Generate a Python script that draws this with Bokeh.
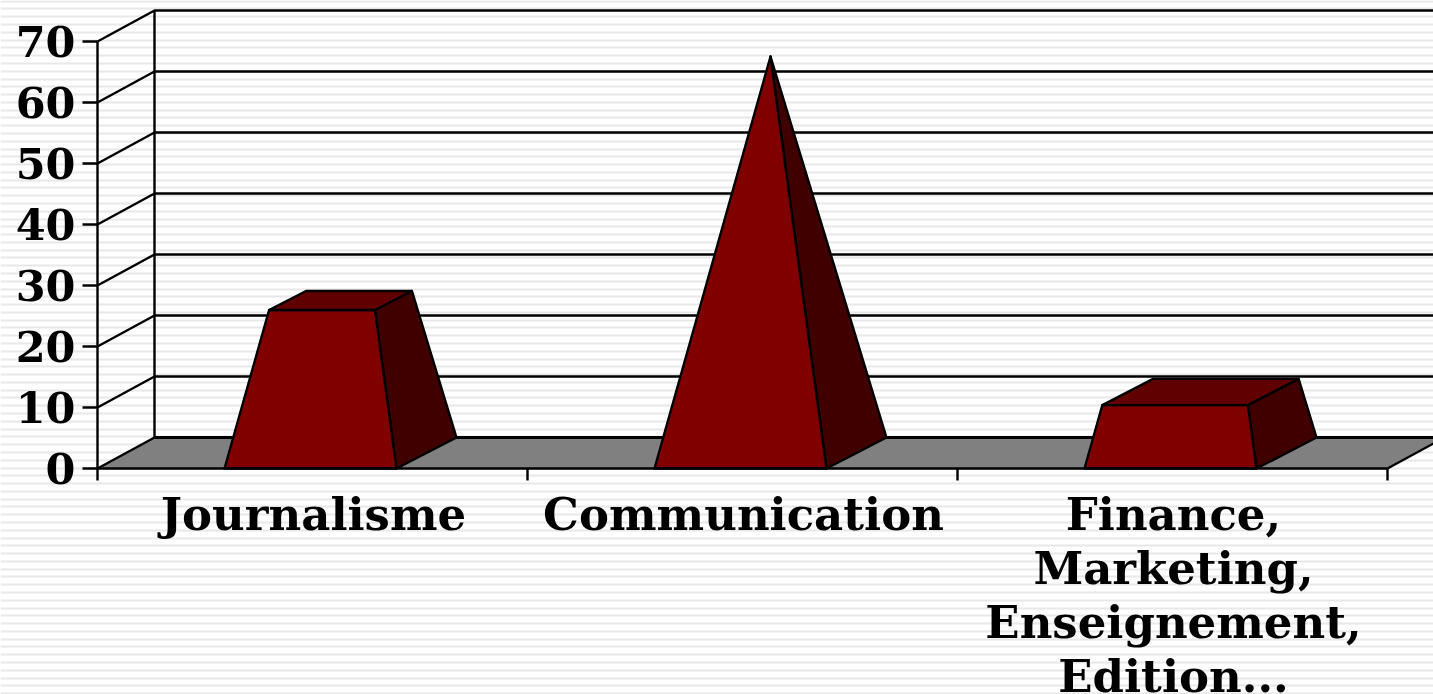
from bokeh.plotting import figure
from bokeh.models import Range1d, LinearAxis, FixedTicker
from bokeh.core.properties import value
from bokeh.embed import file_html
from bokeh.resources import INLINE
import numpy as np

categories = ["Journalisme", "Communication", "Finance,\nMarketing,\nEnseignement,\nEdition..."]
values = [25, 65, 10]
y_ticks = [0, 10, 20, 30, 40, 50, 60, 70]
apex_value = 65

W, H = 1433, 694
X0, Y0 = 97, 468        # pixel of the origin
PX_X, PX_Y = 430, 6.1   # pixels per category / per unit
WALL_DX, WALL_DY = 57 / PX_X, 31 / PX_Y
BAR_DX, BAR_DY = 60 / PX_X, 31 / PX_Y
HALF = 86 / PX_X
BAR_SHIFT = -2 / PX_X

FONT = "DejaVu Serif"
LW = 2.4

p = figure(width=W, height=H, output_backend="svg", toolbar_location=None,
           x_range=Range1d(-X0 / PX_X, (W - X0) / PX_X),
           y_range=Range1d((Y0 - H) / PX_Y, Y0 / PX_Y),
           x_axis_type=None, y_axis_type=None,
           min_border=0, outline_line_color=None)
p.grid.visible = False
p.background_fill_color = "white"
p.border_fill_color = "white"
p.styles = {"position": "fixed", "left": "0", "top": "0"}

# striped slide background
stripe_px = 0.7 + 7.78 * np.arange(0, 90)
p.hspan(y=((Y0 - stripe_px) / PX_Y).tolist(), line_color="#e8e8e8", line_width=2)

n = len(categories)
x_right = (W - X0) / PX_X + 1

# floor
p.patch([0, WALL_DX, n + WALL_DX, n], [0, WALL_DY, WALL_DY, 0], fill_color="#808080", line_color=None)
p.line([WALL_DX, x_right], [WALL_DY, WALL_DY], line_color="black", line_width=LW + 0.6)
p.line([0, WALL_DX], [0, WALL_DY], line_color="black", line_width=LW)
p.line([n, n + WALL_DX], [0, WALL_DY], line_color="black", line_width=LW)

# walls: gridlines on the side wall and the back wall
for t in y_ticks[1:]:
    p.line([0, WALL_DX, x_right], [t, t + WALL_DY, t + WALL_DY], line_color="black", line_width=LW)
p.line([WALL_DX, WALL_DX], [WALL_DY, y_ticks[-1] + WALL_DY], line_color="black", line_width=LW)


def corner(c, sx, d, v):
    """Screen-plane data position of a point on a pyramid edge at height v.
    sx: -1/+1 left or right of the base, d: 0 front / 1 back."""
    t = v / apex_value
    x = c + sx * HALF * (1 - t) + (d + (0.5 - d) * t) * BAR_DX
    y = v + (d + (0.5 - d) * t) * BAR_DY
    return x, y


FRONT, SIDE, TOP = "#800000", "#400000", "#600000"
for i, v in enumerate(values):
    c = i + 0.5 + BAR_SHIFT
    b_fl, b_fr, b_br = corner(c, -1, 0, 0), corner(c, 1, 0, 0), corner(c, 1, 1, 0)
    t_fl, t_fr, t_br, t_bl = corner(c, -1, 0, v), corner(c, 1, 0, v), corner(c, 1, 1, v), corner(c, -1, 1, v)
    faces = [
        ([b_fr, b_br, t_br, t_fr], SIDE),
        ([b_fl, b_fr, t_fr, t_fl], FRONT),
        ([t_fl, t_fr, t_br, t_bl], TOP),
    ]
    for pts, col in faces:
        xs, ys = zip(*pts)
        p.patch(list(xs), list(ys), fill_color=col, line_color="black", line_width=LW, line_join="round")

# y axis
ya = LinearAxis(ticker=FixedTicker(ticks=y_ticks), fixed_location=0, bounds=(y_ticks[0], y_ticks[-1]))
ya.axis_line_color = "black"
ya.axis_line_width = LW
ya.major_tick_line_color = "black"
ya.major_tick_line_width = LW
ya.major_tick_out = 15
ya.major_tick_in = 0
ya.minor_tick_line_color = None
ya.major_label_text_font = FONT
ya.major_label_text_font_style = "bold"
ya.major_label_text_font_size = "43px"
ya.major_label_text_color = "black"
ya.major_label_standoff = 7
p.add_layout(ya, "left")

# x axis: ticks between categories
xa = LinearAxis(ticker=FixedTicker(ticks=list(range(n + 1))), fixed_location=0, bounds=(0, n))
xa.axis_line_color = "black"
xa.axis_line_width = LW
xa.major_tick_line_color = "black"
xa.major_tick_line_width = LW
xa.major_tick_out = 12
xa.major_tick_in = 0
xa.minor_tick_line_color = None
xa.major_label_text_font_size = "0px"
xa.major_label_text_color = None
p.add_layout(xa, "below")

# category labels, centred on the categories
label_x = [i + 0.5 + 1 / PX_X for i in range(n)]
p.text(x=label_x, y=[-19 / PX_Y] * n, text=categories,
       text_font=value(FONT), text_font_style="bold", text_font_size="45px",
       text_color="black", text_align="center", text_baseline="top", text_line_height=1.02)

open("out.html", "w").write(file_html(p, INLINE))
